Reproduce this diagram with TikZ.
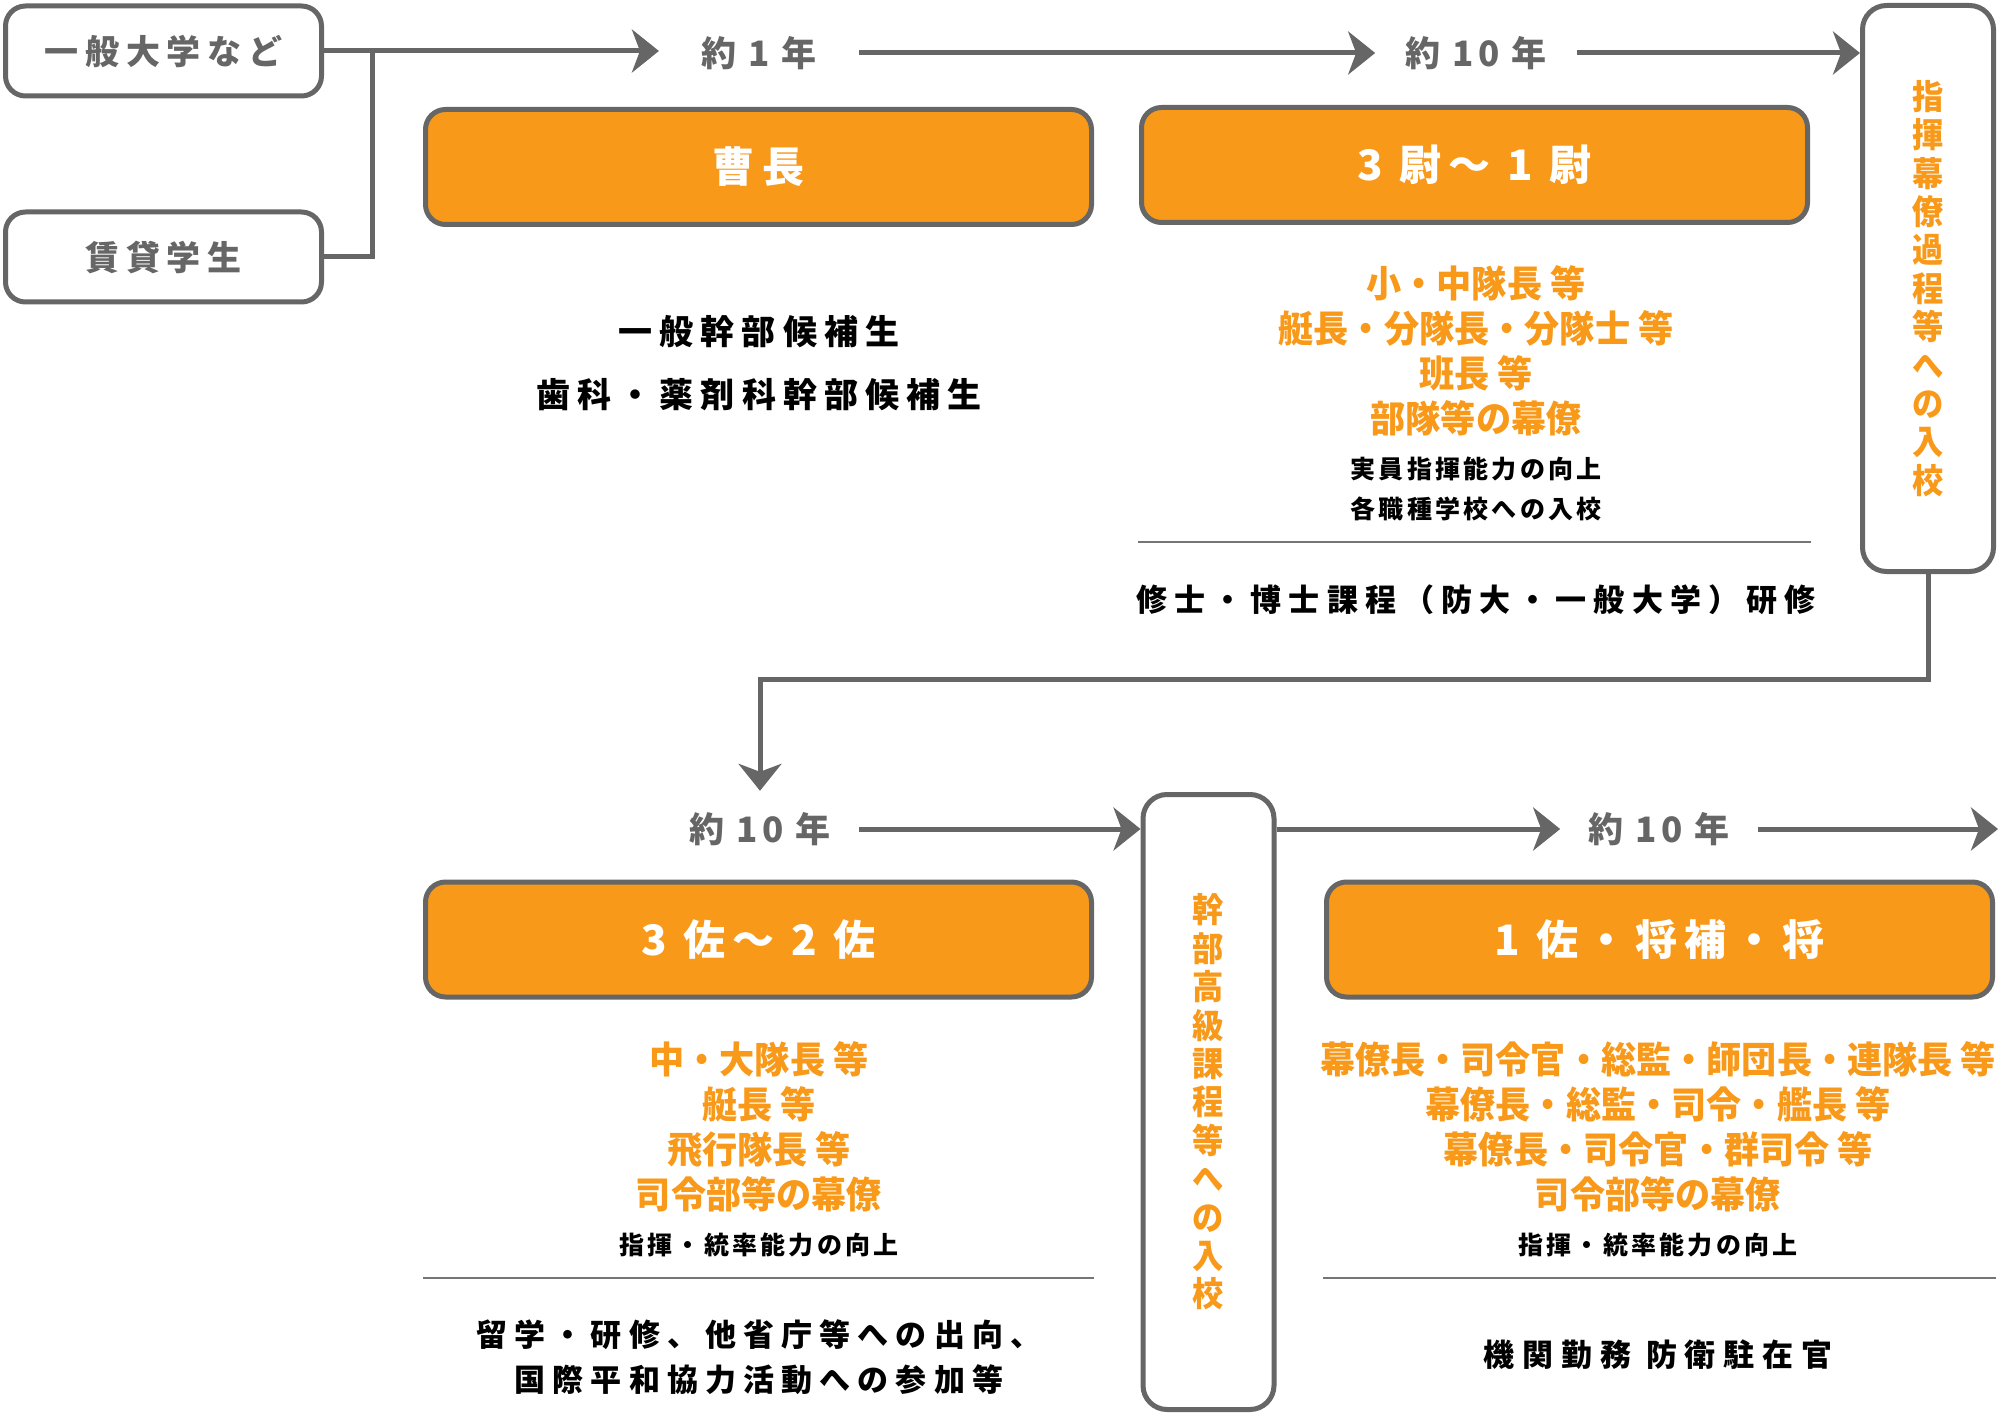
\documentclass[tikz,border=0pt]{standalone}
\usepackage{fontspec}
\usetikzlibrary{arrows.meta}
\newfontfamily\jp{Noto Sans CJK JP}
\newcommand\jf[3]{\jp\bfseries\addfontfeatures{LetterSpace=#3}\fontsize{#1}{#2}\selectfont}
\newcommand\jfs[4]{\jp\bfseries\addfontfeatures{LetterSpace=#3,FakeStretch=#4}\fontsize{#1}{#2}\selectfont}
\definecolor{gr}{HTML}{666666}
\definecolor{org}{HTML}{F8991A}
\begin{document}
\begin{tikzpicture}[x=1pt,y=-1pt,
  gbox/.style={draw=gr, line width=5pt, rounded corners=20pt, fill=white, minimum width=316pt, minimum height=90pt, inner sep=0pt, font=\jf{34}{40}{20}, text=gr},
  obox/.style={draw=gr, line width=5pt, rounded corners=20pt, fill=org, minimum width=666pt, minimum height=115pt, inner sep=0pt, font=\jf{42}{50}{17}, text=white},
  vbox/.style={draw=gr, line width=5pt, rounded corners=24pt, fill=white, minimum width=131pt, inner sep=0pt, align=center, font=\jfs{34}{38.4}{0}{0.92}, text=org},
  yr/.style={font=\jf{35}{40}{12}, text=gr, inner xsep=30pt, inner ysep=0pt, minimum height=76pt},
  otxt/.style={font=\jfs{37}{45}{0}{0.95}, text=org, align=center, inner sep=0pt},
  btxt/.style={font=\jf{31}{45}{21}, text=black, align=center, inner sep=0pt},
  stxt/.style={font=\jf{25}{40}{13}, text=black, align=center, inner sep=0pt},
  conn/.style={draw=gr, line width=5pt},
  arr/.style={conn, -{Stealth[length=27pt,width=43pt,inset=8pt]}},
  sep/.style={draw=gr!90, line width=2.5pt}
]
\useasboundingbox (0,0) rectangle (2000,1415);

% entry boxes
\node[gbox] (univ) at (163.5,51) {一般大学など};
\node[gbox] (stud) at (163.5,257) {賃貸学生};
\coordinate (j) at (372,51);

% year labels
\node[yr, inner xsep=42pt] (y1) at (759,53) {約 1 年};
\node[yr, inner xsep=30pt] (y2) at (1476,53) {約 10 年};
\node[yr, inner xsep=28pt] (y3) at (760,829) {約 10 年};
\node[yr, inner xsep=28pt] (y4) at (1659,829) {約 10 年};

% rank boxes
\node[obox] (sou) at (758.5,167) {曹長};
\node[obox] (ii) at (1474.5,165) {3 尉～ 1 尉};
\node[obox] (sa) at (758.5,939.5) {3 佐～ 2 佐};
\node[obox] (sho) at (1659.5,939.5) {1 佐・将補・将};

% vertical school boxes
\node[vbox, minimum height=566pt] (shiki) at (1928,288.5) {指\\揮\\幕\\僚\\過\\程\\等\\へ\\の\\入\\校};
\node[vbox, minimum height=615pt] (kanbu) at (1208.5,1102) {幹\\部\\高\\級\\課\\程\\等\\へ\\の\\入\\校};

% row 1 texts
\node[btxt, font=\jf{34}{63}{21}] (t1) at (759,363.5) {一般幹部候補生\\歯科・薬剤科幹部候補生};
\node[otxt] (o1) at (1476,350.5) {小・中隊長 等\\艇長・分隊長・分隊士 等\\班長 等\\部隊等の幕僚};
\node[stxt] (s1) at (1476,489) {実員指揮能力の向上\\各職種学校への入校};
\node[btxt, font=\jf{31}{45}{23}] (b1) at (1476,600) {修士・博士課程（防大・一般大学）研修};
\draw[sep] (1138,542) -- (1811,542);

% row 2 texts
\node[otxt] (o2) at (759,1126.5) {中・大隊長 等\\艇長 等\\飛行隊長 等\\司令部等の幕僚};
\node[stxt] (s2) at (759,1245) {指揮・統率能力の向上};
\node[btxt, font=\jf{31}{45}{23}] (b2) at (759,1357.5) {留学・研修、他省庁等への出向、\\国際平和協力活動への参加等};
\draw[sep] (423,1278) -- (1094,1278);

\node[otxt] (o3) at (1658,1126.5) {幕僚長・司令官・総監・師団長・連隊長 等\\幕僚長・総監・司令・艦長 等\\幕僚長・司令官・群司令 等\\司令部等の幕僚};
\node[stxt] (s3) at (1658,1245) {指揮・統率能力の向上};
\node[btxt, font=\jf{31}{45}{25}] (b3) at (1658,1355) {機関勤務 防衛駐在官};
\draw[sep] (1323,1278) -- (1996,1278);

% connectors
\draw[conn] (stud.east) -| (j);
\draw[arr] (univ.east) -- (univ.east -| y1.west);
\draw[arr] (y1.east) -- (y2.west);
\draw[arr] (y2.east) -- (y2.east -| shiki.west);
\coordinate (bend) at (760,679);
\draw[arr] (shiki.south) |- (bend) -- (y3.north);
\draw[arr] (y3.east) -- (y3.east -| kanbu.west);
\draw[arr] (kanbu.east |- y4.west) -- (y4.west);
\coordinate (fin) at (1998,829);
\draw[arr] (y4.east) -- (fin);
\end{tikzpicture}
\end{document}
